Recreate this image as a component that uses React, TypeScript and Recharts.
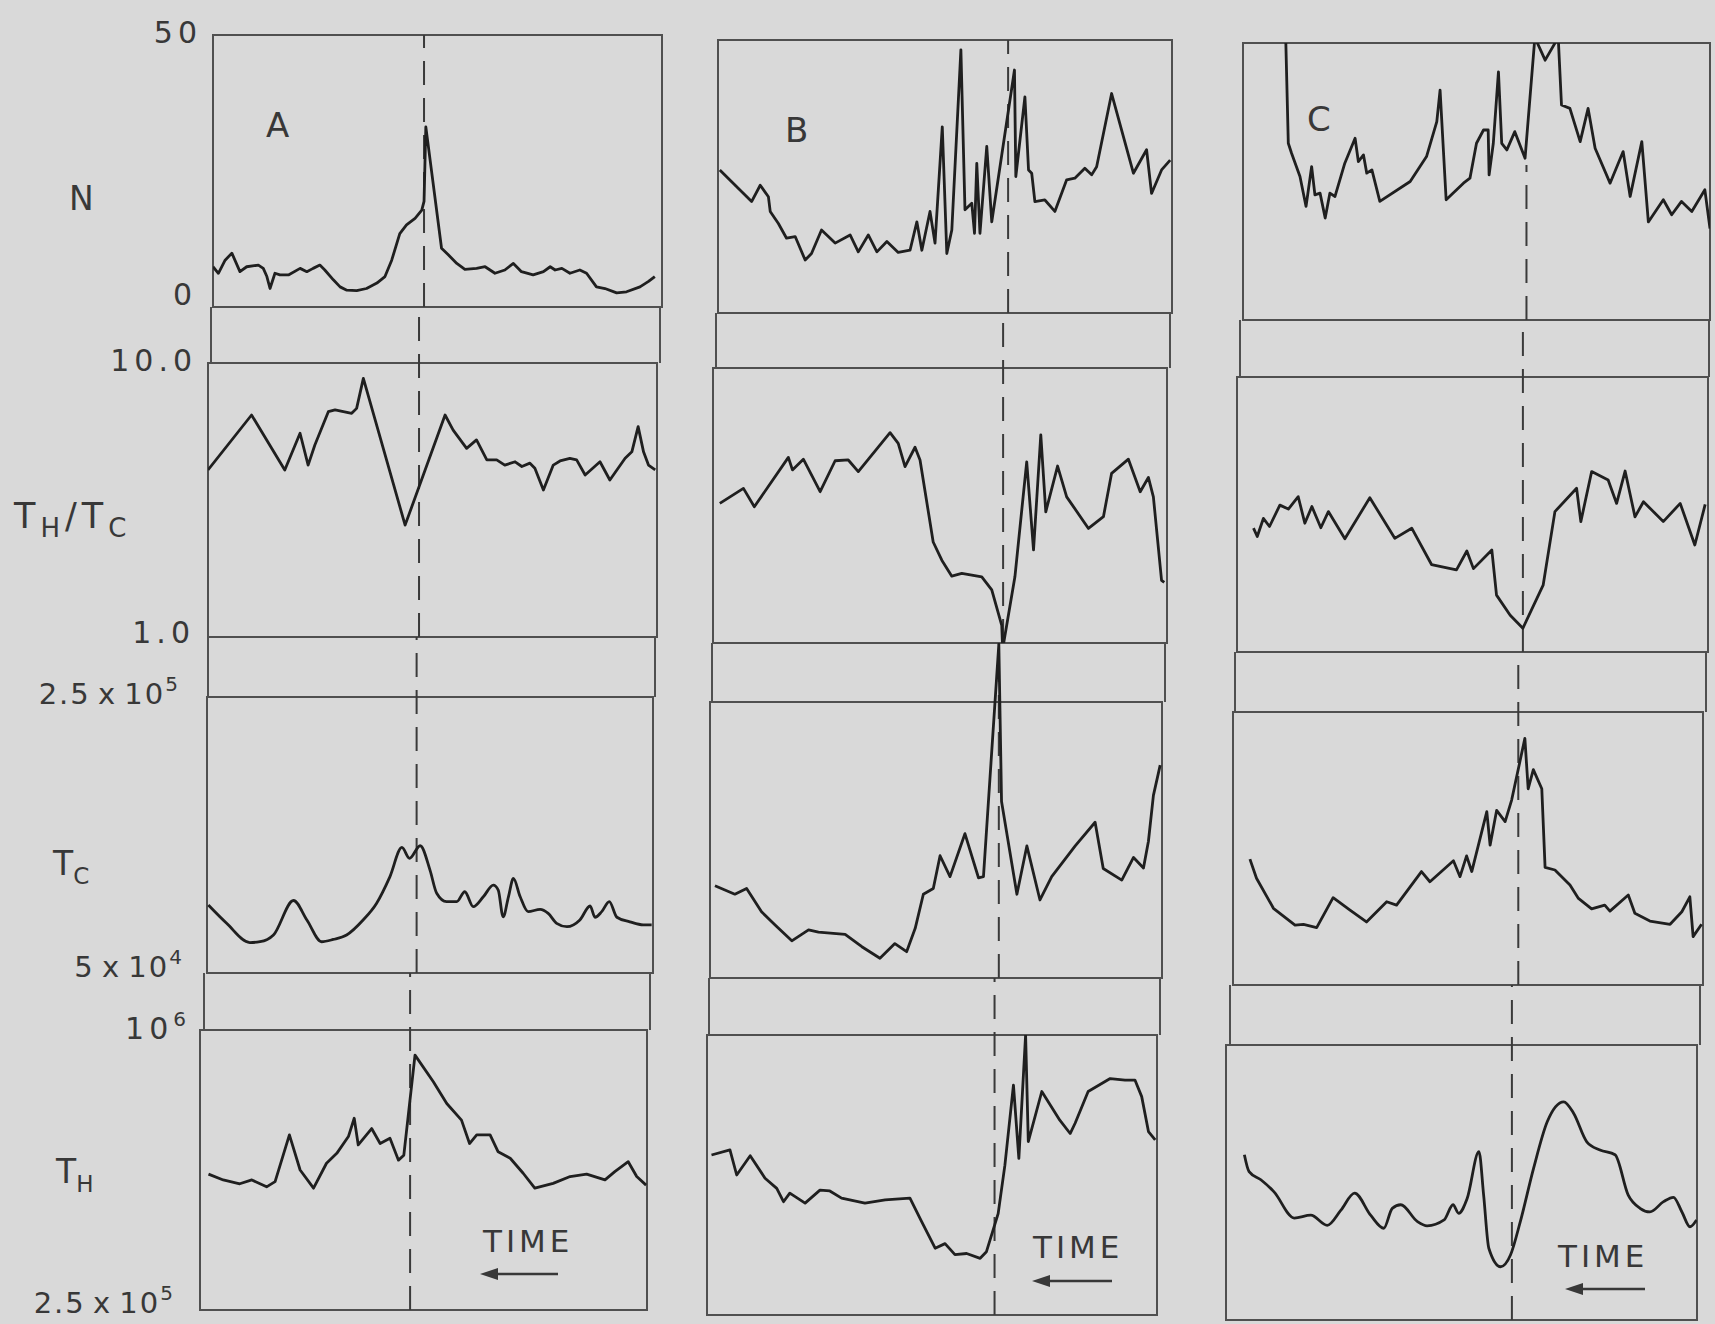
import React from "react";
import { LineChart, Line, XAxis, YAxis, ReferenceLine } from "recharts";

const INK = "#1f1f1f";
const FRAME = "#505050";
const LABEL = "#383838";
const PAPER = "#d9d9d9";
const FONT = "'DejaVu Sans', sans-serif";
const PAD = 26; // room around each panel so the axis labels are not cut

// y ranges of the four rows: N (linear), TH/TC, TC, TH (log)
const rowDomains = [
  [0, 50],
  [1, 10],
  [5e4, 2.5e5],
  [2.5e5, 1e6],
];
const rowLog = [false, true, true, true];

// time of the dashed marker in each column (0..100 across a panel)
const eventTimes = [47.0, 63.9, 60.7];

// [time, value] pairs
const aDensity = [
  [0, 7.4], [1.2, 6.2], [2.7, 8.6], [4.2, 9.9], [6.0, 6.5], [7.5, 7.4], [10.1, 7.7], [11.2, 7.1],
  [12.0, 5.6], [12.7, 3.4], [13.8, 6.2], [14.9, 5.9], [16.8, 5.9], [19.4, 7.1], [20.9, 6.5],
  [22.3, 7.1], [23.8, 7.7], [24.9, 6.8], [26.8, 5.0], [28.3, 3.7], [29.8, 3.1], [32.0, 3.0],
  [34.2, 3.4], [36.5, 4.4], [38.3, 5.6], [39.8, 8.6], [41.6, 13.5], [43.1, 15.1], [45.0, 16.3],
  [46.5, 17.8], [47.0, 19.4], [47.4, 33.1], [50.9, 10.8], [52.4, 9.6], [54.3, 8.0], [56.1, 6.9],
  [58.7, 7.1], [60.6, 7.4], [62.8, 6.2], [65.0, 6.8], [66.9, 8.0], [68.7, 6.5], [71.3, 5.9],
  [73.6, 6.5], [75.1, 7.4], [76.2, 6.8], [77.7, 7.1], [79.5, 6.2], [81.7, 6.8], [83.2, 6.2],
  [85.4, 3.7], [87.3, 3.4], [89.9, 2.6], [92.1, 2.8], [95.1, 3.7], [97.0, 4.7], [98.4, 5.6],
];
const aRatio = [
  [0, 4.07], [9.7, 6.46], [17.1, 4.07], [20.5, 5.54], [22.3, 4.24], [23.8, 5.02], [26.8, 6.64],
  [28.3, 6.74], [32.0, 6.55], [33.1, 6.83], [34.6, 8.79], [43.9, 2.56], [52.8, 6.46], [54.6, 5.69],
  [57.6, 4.88], [59.8, 5.24], [62.1, 4.43], [64.3, 4.43], [66.1, 4.24], [68.4, 4.36], [69.9, 4.19],
  [71.7, 4.31], [72.8, 4.13], [74.7, 3.44], [76.9, 4.24], [78.4, 4.39], [80.6, 4.49], [82.1, 4.43],
  [84.0, 3.9], [87.3, 4.36], [89.5, 3.74], [92.9, 4.49], [94.4, 4.74], [95.8, 5.86], [97.0, 4.74],
  [98.1, 4.24], [99.6, 4.07],
];
const aCold = [
  [0.3, 74300], [4.4, 66800], [9.6, 59700], [11.9, 60000], [14.9, 62400], [19.4, 76300],
  [22.4, 68100], [25.7, 60000], [28.3, 60800], [31.3, 62400], [35.0, 68100], [38.0, 75000],
  [41.0, 87600], [43.7, 104000], [45.4, 97600], [47.8, 105000], [50.0, 91100], [51.5, 79600],
  [53.7, 75800], [56.0, 75800], [57.8, 80300], [59.7, 73600], [62.0, 78100], [64.2, 83500],
  [65.3, 81100], [66.4, 69400], [67.6, 78100], [68.7, 86800], [70.2, 78100], [72.0, 71500],
  [74.7, 72500], [76.5, 70800], [78.4, 66800], [80.7, 65500], [83.6, 68100], [85.9, 73900],
  [87.0, 69200], [88.5, 71500], [90.2, 75800], [91.9, 69200], [94.8, 67400], [97.8, 66200],
  [99.7, 66200],
];
const aHot = [
  [1.9, 490000], [5.2, 476000], [8.9, 467000], [11.6, 476000], [14.9, 460000], [16.8, 472000],
  [20.0, 595000], [22.4, 500000], [25.4, 457000], [28.3, 517000], [30.6, 543000], [33.2, 590000],
  [34.5, 646000], [35.4, 566000], [38.4, 614000], [40.3, 570000], [42.5, 585000], [44.4, 525000],
  [45.6, 538000], [48.1, 883000], [52.2, 774000], [55.2, 695000], [58.5, 640000], [60.3, 570000],
  [61.9, 595000], [64.9, 595000], [66.7, 547000], [69.4, 530000], [72.3, 492000], [74.9, 457000],
  [79.0, 468000], [82.8, 484000], [86.5, 490000], [90.6, 476000], [92.8, 496000], [95.8, 521000],
  [97.7, 484000], [99.8, 464000],
];

const bDensity = [
  [0.4, 26.2], [7.4, 20.4], [9.3, 23.4], [11.1, 21.3], [11.5, 18.6], [13.3, 16.4], [15.1, 13.7],
  [17.0, 14.0], [19.2, 9.7], [20.6, 10.9], [22.8, 15.2], [25.8, 12.8], [29.1, 14.3], [30.9, 11.2],
  [33.1, 14.3], [35.0, 11.2], [37.2, 13.1], [39.7, 11.1], [42.3, 11.5], [43.8, 16.7], [44.9, 11.5],
  [46.7, 18.6], [47.8, 12.8], [49.4, 34.1], [50.4, 10.9], [51.5, 15.2], [53.5, 48.2], [54.4, 18.9],
  [55.9, 20.1], [56.5, 14.6], [57.0, 27.4], [57.7, 14.6], [59.2, 30.5], [60.3, 16.7], [65.3, 44.5],
  [65.6, 25.0], [67.6, 39.6], [68.4, 26.2], [69.1, 25.6], [69.8, 20.4], [72.0, 20.7], [74.2, 18.6],
  [76.8, 24.4], [78.6, 24.7], [80.8, 26.5], [82.3, 25.3], [83.4, 26.8], [86.7, 40.2], [91.5, 25.6],
  [94.4, 29.9], [95.5, 21.9], [97.7, 26.2], [99.6, 28.0],
];
const bRatio = [
  [1.5, 3.22], [6.7, 3.65], [9.1, 3.13], [16.6, 4.73], [17.5, 4.26], [19.9, 4.66], [23.6, 3.55],
  [26.9, 4.6], [29.8, 4.63], [32.0, 4.2], [39.0, 5.82], [40.8, 5.32], [42.3, 4.38], [44.5, 5.15],
  [45.6, 4.63], [48.5, 2.33], [50.4, 2.0], [52.6, 1.75], [54.8, 1.79], [59.2, 1.74], [61.4, 1.56],
  [63.6, 1.16], [63.8, 0.95], [66.5, 1.74], [69.1, 4.56], [70.6, 2.18], [72.2, 5.71], [73.3, 3.0],
  [75.9, 4.4], [77.9, 3.4], [82.7, 2.61], [86.0, 2.88], [87.8, 4.14], [91.5, 4.66], [94.1, 3.55],
  [95.9, 4.0], [97.0, 3.4], [98.8, 1.69], [99.4, 1.66],
];
const bCold = [
  [1.1, 85600], [5.5, 81500], [8.1, 84300], [11.4, 73600], [14.4, 68100], [18.1, 62100],
  [21.8, 66200], [24.0, 65300], [29.9, 64500], [33.6, 60000], [37.6, 56100], [40.9, 61100],
  [43.5, 58300], [45.4, 66800], [47.2, 81500], [49.4, 84300], [50.9, 102000], [53.1, 90300],
  [56.4, 116000], [59.4, 89700], [60.5, 90300], [63.9, 350000], [64.5, 140000], [67.9, 81500],
  [70.1, 108000], [73.0, 78800], [75.6, 90300], [80.8, 108000], [85.2, 124000], [87.0, 94700],
  [91.1, 88500], [93.7, 101000], [95.9, 95000], [97.0, 111000], [98.1, 145000], [99.6, 173000],
];
const bHot = [
  [1.0, 552000], [5.1, 566000], [6.6, 500000], [9.6, 550000], [12.9, 492000], [15.5, 468000],
  [17.0, 438000], [18.4, 457000], [21.8, 435000], [25.1, 464000], [27.3, 462000], [29.9, 446000],
  [35.1, 435000], [39.6, 442000], [45.1, 446000], [47.7, 397000], [50.7, 348000], [52.9, 356000],
  [55.1, 337000], [57.7, 339000], [60.7, 331000], [62.1, 342000], [64.7, 413000], [66.2, 525000],
  [68.1, 780000], [69.3, 543000], [70.8, 1000000], [71.4, 590000], [74.4, 756000], [78.4, 656000],
  [80.7, 614000], [81.8, 646000], [84.7, 756000], [89.6, 806000], [92.9, 800000], [95.1, 800000],
  [96.6, 737000], [98.1, 620000], [99.6, 595000],
];

const cDensity = [
  [9.0, 56], [9.7, 31.9], [10.4, 30.1], [12.2, 25.9], [13.5, 20.5], [14.7, 27.7], [15.4, 22.6],
  [16.5, 22.9], [17.6, 18.4], [18.6, 22.9], [19.7, 22.3], [21.8, 28.3], [24.0, 32.8], [24.7, 28.6],
  [25.8, 29.8], [26.5, 26.5], [27.6, 27.1], [29.3, 21.4], [35.8, 25.0], [39.3, 29.5], [41.5, 35.8],
  [42.2, 41.5], [43.5, 21.7], [47.2, 24.7], [48.6, 25.6], [50.0, 31.9], [51.5, 34.3], [52.5, 34.3],
  [52.7, 26.2], [53.6, 31.9], [54.7, 44.8], [55.4, 31.9], [56.5, 30.7], [58.2, 34.0], [60.4, 29.2],
  [62.5, 51], [64.7, 46.9], [67.5, 51], [68.2, 38.8], [70.0, 38.2], [72.2, 32.2], [73.9, 38.2],
  [75.4, 31.0], [78.6, 24.7], [81.4, 30.4], [82.9, 22.3], [85.4, 32.2], [86.8, 17.7], [90.0, 21.7],
  [91.8, 19.0], [93.9, 21.4], [96.1, 19.6], [98.9, 23.5], [100, 16.5],
];
const cRatio = [
  [3.5, 2.82], [4.3, 2.63], [5.6, 3.06], [6.9, 2.86], [9.1, 3.42], [10.9, 3.31], [13.0, 3.67],
  [14.4, 2.94], [15.9, 3.38], [17.8, 2.83], [19.4, 3.24], [22.9, 2.58], [28.2, 3.64], [33.5, 2.59],
  [37.1, 2.82], [41.3, 2.08], [46.6, 1.99], [48.8, 2.33], [50.2, 2.01], [54.1, 2.35], [55.1, 1.61],
  [58.0, 1.36], [60.7, 1.22], [65.0, 1.75], [67.5, 3.24], [72.1, 3.94], [73.0, 2.98], [75.3, 4.53],
  [78.8, 4.22], [80.6, 3.47], [82.4, 4.55], [84.5, 3.1], [86.3, 3.52], [90.5, 2.98], [94.1, 3.47],
  [97.2, 2.45], [99.4, 3.44],
];
const cCold = [
  [3.6, 105000], [5.0, 93800], [8.6, 78600], [13.2, 71200], [15.0, 71500], [17.8, 70100],
  [21.3, 83700], [24.9, 77800], [28.4, 72500], [32.7, 81700], [34.8, 80100], [40.1, 97600],
  [41.9, 91900], [46.9, 104000], [48.3, 94700], [49.7, 107000], [50.8, 97600], [54.0, 139000],
  [54.7, 114000], [56.1, 140000], [57.9, 131000], [59.3, 149000], [62.1, 214000], [62.8, 159000],
  [63.9, 178000], [65.7, 159000], [66.4, 100000], [68.5, 98500], [71.7, 90100], [73.5, 83300],
  [76.3, 78300], [79.1, 80100], [80.2, 77300], [84.1, 85000], [85.5, 76300], [88.7, 72900],
  [93.0, 71500], [95.5, 77000], [97.2, 84100], [97.9, 66500], [99.7, 71500],
];
const cHot = [
  [3.9, 575000], [4.9, 528000], [7.4, 507000], [10.2, 477000], [14.5, 418000], [18.0, 424000],
  [21.5, 403000], [24.4, 435000], [27.3, 474000], [30.7, 424000], [33.5, 397000], [35.3, 439000],
  [37.1, 447000], [40.6, 411000], [42.7, 402000], [46.3, 414000], [48.2, 447000], [49.4, 428000],
  [51.2, 461000], [53.7, 584000], [54.7, 469000], [55.8, 359000], [58.3, 327000], [60.4, 347000],
  [62.5, 411000], [65.3, 537000], [68.2, 679000], [71.7, 751000], [73.8, 709000], [76.6, 614000],
  [79.4, 589000], [82.6, 575000], [85.4, 469000], [87.9, 439000], [90.0, 431000], [92.9, 454000],
  [95.0, 464000], [96.8, 431000], [98.5, 400000], [99.9, 414000],
];

const series = [
  [aDensity, aRatio, aCold, aHot],
  [bDensity, bRatio, bCold, bHot],
  [cDensity, cRatio, cCold, cHot],
];
const smoothRows = [
  [false, false, true, false],
  [false, false, false, false],
  [false, false, false, true],
];

// axis labels (column A only)
const rowTicks = [
  [{ v: 0, text: "0", dx: -16, dy: -12 }, { v: 50, text: "50", dx: -11, dy: -2 }],
  [{ v: 1, text: "1.0", dx: -13, dy: -4 }, { v: 10, text: "10.0", dx: -11, dy: -2 }],
  [
    { v: 5e4, text: "5 x 10", sup: "4", dx: -23, dy: -6 },
    { v: 2.5e5, text: "2.5 x 10", sup: "5", dx: -27, dy: -3 },
  ],
  [
    { v: 2.5e5, text: "2.5 x 10", sup: "5", dx: -25, dy: -7 },
    { v: 1e6, text: "10", sup: "6", dx: -9, dy: -1 },
  ],
];

// panel boxes on the page (the scan is slightly rotated)
const boxes = [
  [
    { x: 213, y: 35, w: 449, h: 272 },
    { x: 208, y: 363, w: 449, h: 274 },
    { x: 207, y: 697, w: 446, h: 276 },
    { x: 200, y: 1030, w: 447, h: 280 },
  ],
  [
    { x: 718, y: 40, w: 454, h: 273 },
    { x: 713, y: 368, w: 454, h: 275 },
    { x: 710, y: 702, w: 452, h: 276 },
    { x: 707, y: 1035, w: 450, h: 280 },
  ],
  [
    { x: 1243, y: 43, w: 467, h: 277 },
    { x: 1237, y: 377, w: 471, h: 275 },
    { x: 1233, y: 712, w: 470, h: 273 },
    { x: 1226, y: 1045, w: 471, h: 275 },
  ],
];

function RowTick(props: any) {
  const { x, y, payload, row } = props;
  const spec = rowTicks[row].find((s: any) => Math.abs(s.v - payload.value) / s.v < 1e-6 || s.v === payload.value);
  if (!spec) return null;
  const withX = spec.text.includes("x");
  return (
    <text
      x={x + spec.dx}
      y={y + spec.dy + 10}
      textAnchor="end"
      fill={LABEL}
      fontSize={withX ? 29 : 30}
      fontFamily={FONT}
      letterSpacing={withX ? 2 : 5}
      style={{ wordSpacing: withX ? -4 : 0 }}
    >
      {spec.text}
      {spec.sup && (
        <tspan dy={-13} fontSize={20}>
          {spec.sup}
        </tspan>
      )}
    </text>
  );
}

function Panel({ col, row }: { col: number; row: number }) {
  const box = boxes[col][row];
  const prev = row > 0 ? boxes[col][row - 1] : null;
  const gapAbove = prev ? box.y - (prev.y + prev.h) : 0;
  const [lo, hi] = rowDomains[row];
  const log = rowLog[row];
  // value that sits gapAbove pixels over the panel top
  const upVal = log ? hi * Math.pow(hi / lo, gapAbove / box.h) : hi + ((hi - lo) * gapAbove) / box.h;
  const openTop = col === 1 && row === 2; // the B cold-temperature spike runs up through the gap
  const withAxis = col === 0;
  const left = withAxis ? 0 : box.x;
  const width = withAxis ? box.x + box.w : box.w;
  const data = series[col][row].map(([t, v]) => ({ t, v }));
  const dashTop = col === 2 && row === 0 ? 28 : upVal;
  const ev = eventTimes[col];

  return (
    <div style={{ position: "absolute", left, top: box.y - gapAbove - PAD }}>
      <LineChart
        width={width}
        height={box.h + gapAbove + 2 * PAD}
        data={data}
        margin={{ top: (openTop ? 0 : gapAbove) + PAD, right: 0, bottom: PAD, left: 0 }}
      >
        <XAxis dataKey="t" type="number" domain={[0, 100]} allowDataOverflow hide />
        <YAxis
          type="number"
          scale={log ? "log" : "linear"}
          domain={openTop ? [lo, upVal] : [lo, hi]}
          allowDataOverflow
          hide={!withAxis}
          width={withAxis ? box.x : 0}
          ticks={[lo, hi]}
          interval={0}
          axisLine={false}
          tickLine={false}
          tickSize={0}
          tickMargin={0}
          tick={(p: any) => <RowTick {...p} row={row} />}
        />
        <ReferenceLine
          segment={[
            { x: ev, y: lo },
            { x: ev, y: dashTop },
          ]}
          stroke="#3a3a3a"
          strokeWidth={2}
          strokeDasharray="24 13"
          ifOverflow="visible"
        />
        <Line
          type={smoothRows[col][row] ? "monotone" : "linear"}
          dataKey="v"
          stroke={INK}
          strokeWidth={2.8}
          strokeLinejoin="round"
          dot={false}
          isAnimationActive={false}
        />
      </LineChart>
    </div>
  );
}

function Frame({ col }: { col: number }) {
  const list = boxes[col];
  const parts: any[] = [];
  list.forEach((b, i) => {
    parts.push(
      <div
        key={"p" + i}
        style={{
          position: "absolute",
          left: b.x - 1,
          top: b.y - 1,
          width: b.w + 2,
          height: b.h + 2,
          border: `2px solid ${FRAME}`,
          boxSizing: "border-box",
        }}
      />
    );
    if (i > 0) {
      const p = list[i - 1];
      parts.push(
        <div
          key={"g" + i}
          style={{
            position: "absolute",
            left: (p.x + b.x) / 2 - 1,
            top: p.y + p.h,
            width: (p.w + b.w) / 2 + 2,
            height: b.y - (p.y + p.h),
            borderLeft: `2px solid ${FRAME}`,
            borderRight: `2px solid ${FRAME}`,
            boxSizing: "border-box",
          }}
        />
      );
    }
  });
  return <>{parts}</>;
}

function Arrow({ x1, x2, y }: { x1: number; x2: number; y: number }) {
  return (
    <g>
      <line x1={x1} y1={y} x2={x2 + 12} y2={y} stroke={LABEL} strokeWidth={2.5} />
      <polygon points={`${x2},${y} ${x2 + 18},${y - 6} ${x2 + 18},${y + 6}`} fill={LABEL} />
    </g>
  );
}

export default function App() {
  const big = { fontFamily: FONT, fill: LABEL } as any;
  return (
    <div
      style={{
        position: "absolute",
        left: 0,
        top: 0,
        width: 1715,
        height: 1324,
        background: PAPER,
        overflow: "hidden",
      }}
    >
      {[0, 1, 2].map((c) => (
        <Frame key={"f" + c} col={c} />
      ))}
      {[0, 1, 2].map((c) => [0, 1, 2, 3].map((r) => <Panel key={`${c}-${r}`} col={c} row={r} />))}
      <svg
        width={1715}
        height={1324}
        style={{ position: "absolute", left: 0, top: 0, pointerEvents: "none" }}
      >
        <text x={69} y={210} fontSize={33} {...big}>N</text>
        <text x={14} y={528} fontSize={35} letterSpacing={5} {...big}>
          T<tspan fontSize={26} dy={9}>H</tspan>
          <tspan dy={-9}>/T</tspan>
          <tspan fontSize={26} dy={9}>C</tspan>
        </text>
        <text x={53} y={875} fontSize={33} {...big}>
          T<tspan fontSize={23} dy={9}>C</tspan>
        </text>
        <text x={56} y={1183} fontSize={33} {...big}>
          T<tspan fontSize={23} dy={9}>H</tspan>
        </text>

        <text x={266} y={137} fontSize={34} {...big}>A</text>
        <text x={785} y={142} fontSize={34} {...big}>B</text>
        <text x={1307} y={131} fontSize={34} {...big}>C</text>

        <text x={483} y={1252} fontSize={31} letterSpacing={4} {...big}>TIME</text>
        <text x={1033} y={1258} fontSize={31} letterSpacing={4} {...big}>TIME</text>
        <text x={1558} y={1267} fontSize={31} letterSpacing={4} {...big}>TIME</text>
        <Arrow x1={558} x2={480} y={1274} />
        <Arrow x1={1112} x2={1032} y={1281} />
        <Arrow x1={1645} x2={1565} y={1289} />
      </svg>
    </div>
  );
}
